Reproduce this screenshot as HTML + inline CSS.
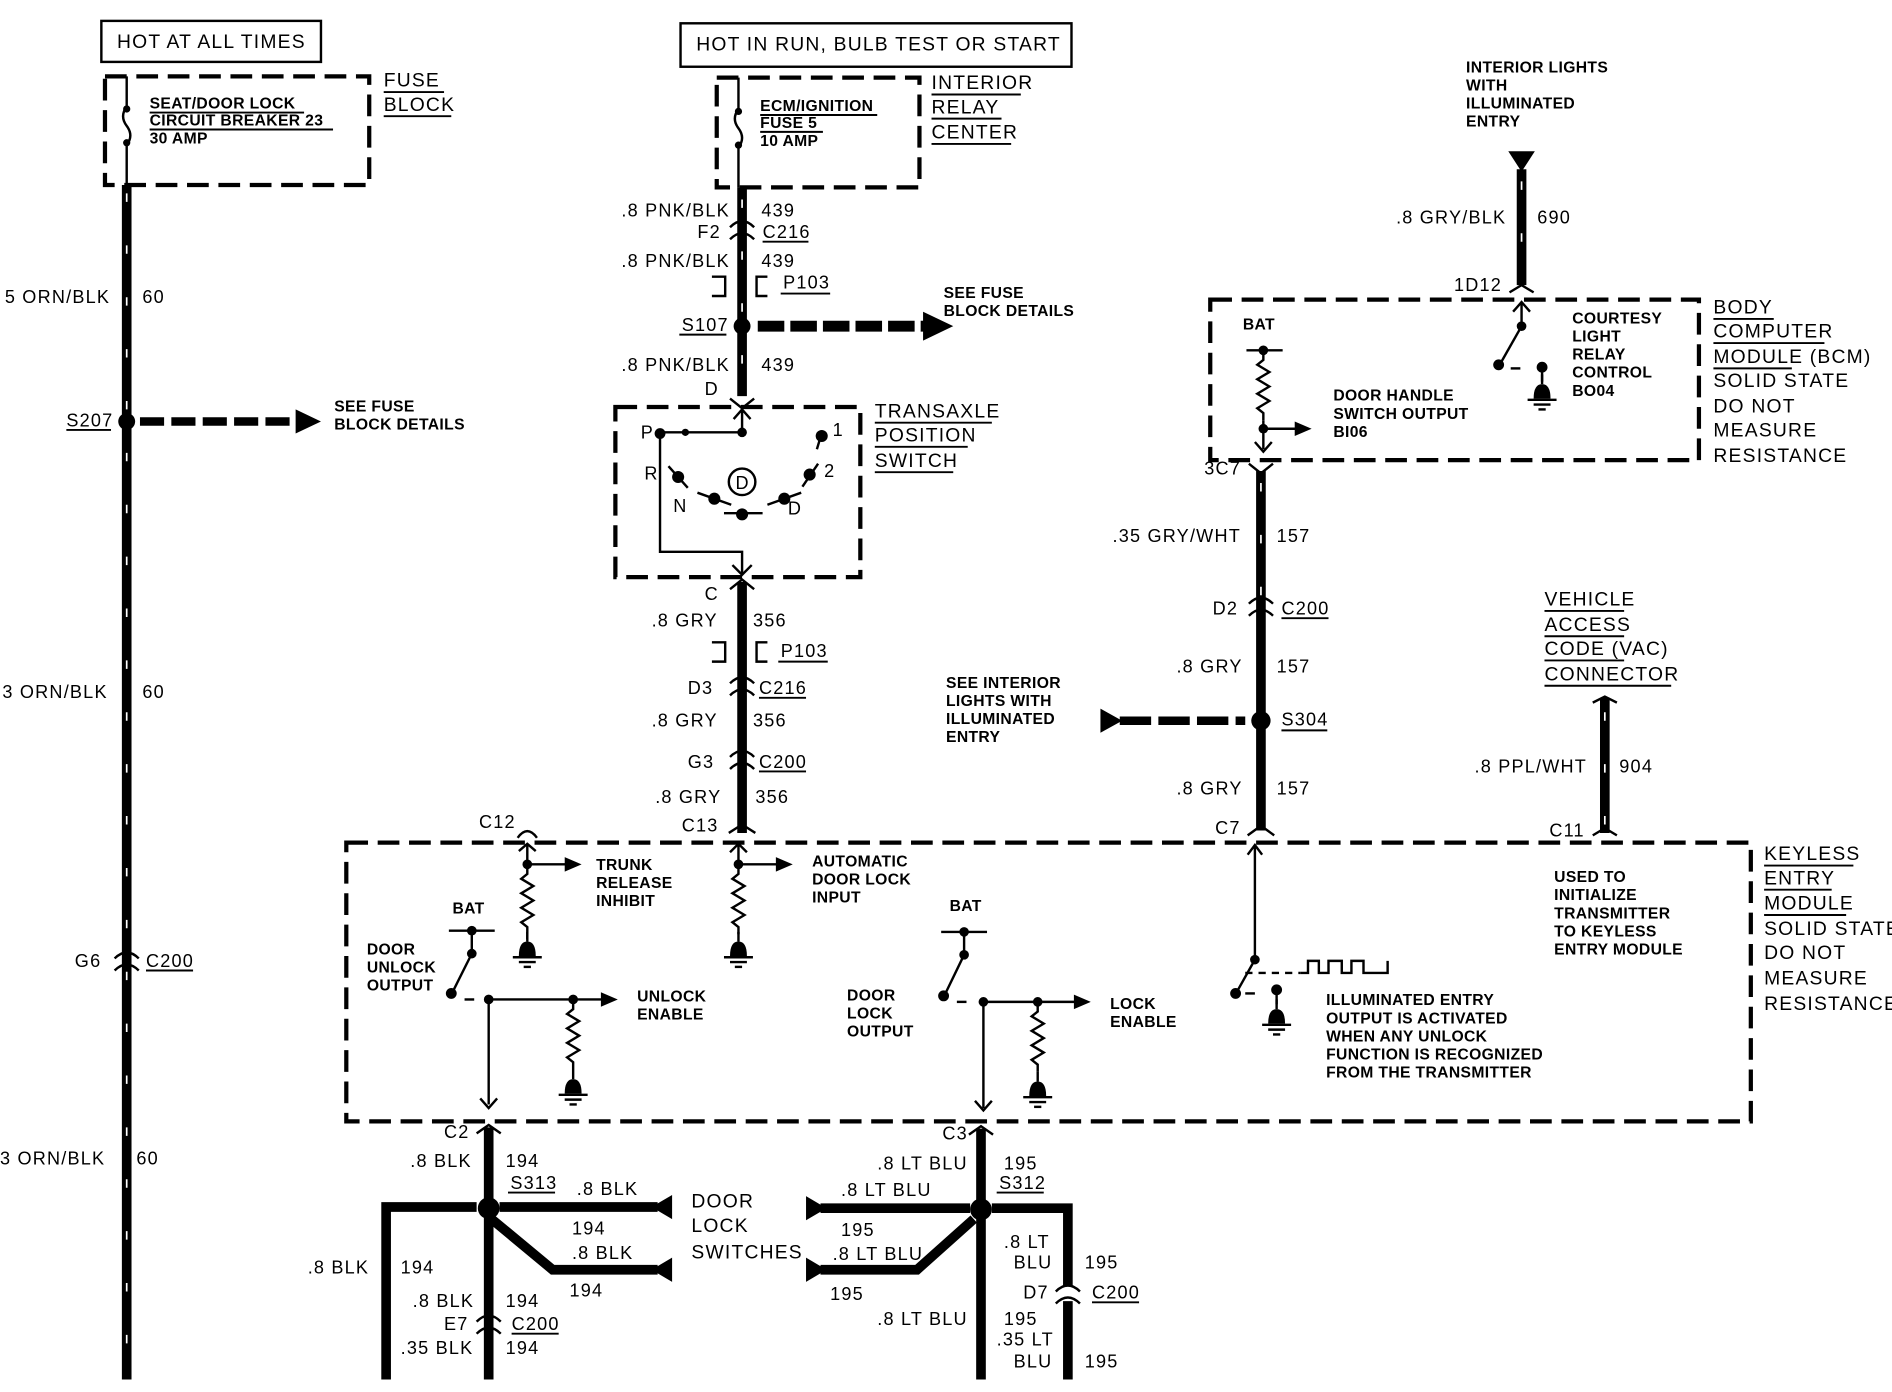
<!DOCTYPE html>
<html><head><meta charset="utf-8"><style>
html,body{margin:0;padding:0;background:#fff;}
svg{display:block;}
text{font-family:"Liberation Sans",sans-serif;fill:#000;dominant-baseline:central;}
.n{font-size:15px;letter-spacing:1px;}
.b{font-size:13px;font-weight:bold;letter-spacing:0.3px;}
.L{font-size:16px;letter-spacing:1px;}
.w{stroke:#000;stroke-width:8;fill:none;}
.h{stroke:#fff;stroke-width:1.4;stroke-dasharray:7 36;fill:none;}
.d{stroke:#000;stroke-width:3.5;stroke-dasharray:18 8;fill:none;}
.t{stroke:#000;stroke-width:2;fill:none;}
.u{stroke:#000;stroke-width:1.6;}
</style></head><body>
<svg width="1892" height="1392" viewBox="0 0 1568 1153" xmlns="http://www.w3.org/2000/svg">
<defs>
<g id="gnd"><path d="M-7,0 Q-7,-12 0,-12 Q7,-12 7,0 Z" fill="#000"/><line x1="0" y1="-12" x2="0" y2="-20" class="t"/><line x1="-12" y1="1" x2="12" y2="1" class="t"/><line x1="-7" y1="5" x2="7" y2="5" class="t"/><line x1="-3" y1="9" x2="3" y2="9" class="t"/></g>
<g id="res"><polyline points="0,0 0,6 -5,10 5,16 -5,22 5,28 -5,34 5,40 -5,46 0,50 0,56" class="t"/></g>
<g id="conn"><path d="M-10,-2 Q0,-12 10,-2" class="t" stroke-width="4"/><path d="M-10,8 Q0,-2 10,8" class="t" stroke-width="4"/></g>
</defs>

<!-- LEFT -->
<rect x="84" y="17" width="182" height="34" fill="none" stroke="#000" stroke-width="2"/>
<text x="97" y="35" class="L">HOT AT ALL TIMES</text>
<rect x="87" y="63" width="219" height="90" class="d"/>
<path d="M105,63 L105,88 Q99,96 105,104 Q111,112 105,120 L105,153" class="t"/>
<circle cx="105" cy="90" r="3"/><circle cx="105" cy="118" r="3"/>
<text x="124" y="86" class="b">SEAT/DOOR LOCK</text><line x1="124" y1="93" x2="252" y2="93" class="u"/>
<text x="124" y="100" class="b">CIRCUIT BREAKER  23</text><line x1="124" y1="107" x2="276" y2="107" class="u"/>
<text x="124" y="115" class="b">30  AMP</text>
<text x="318" y="67" class="L">FUSE</text><line x1="318" y1="76" x2="368" y2="76" class="u"/>
<text x="318" y="87" class="L">BLOCK</text><line x1="318" y1="96" x2="374" y2="96" class="u"/>
<line x1="105" y1="153" x2="105" y2="1143" class="w"/>
<line x1="105" y1="160" x2="105" y2="1143" class="h"/>
<text x="4" y="246" class="n">5 ORN/BLK</text><text x="118" y="246" class="n">60</text>
<text x="55" y="348" class="n">S207</text><line x1="55" y1="356" x2="92" y2="356" class="u"/>
<circle cx="105" cy="349" r="7"/>
<line x1="116" y1="349" x2="248" y2="349" stroke="#000" stroke-width="7" stroke-dasharray="20 6"/>
<polygon points="245,339 266,349 245,359"/>
<text x="277" y="337" class="b">SEE FUSE</text><text x="277" y="352" class="b">BLOCK DETAILS</text>
<text x="2" y="573" class="n">3 ORN/BLK</text><text x="118" y="573" class="n">60</text>
<text x="62" y="796" class="n">G6</text><use href="#conn" x="105" y="796"/>
<text x="121" y="796" class="n">C200</text><line x1="121" y1="804" x2="160" y2="804" class="u"/>
<text x="0" y="960" class="n">3 ORN/BLK</text><text x="113" y="960" class="n">60</text>

<!-- MIDDLE -->
<rect x="564" y="19" width="324" height="36" fill="none" stroke="#000" stroke-width="2"/>
<text x="577" y="37" class="L">HOT IN RUN, BULB TEST OR START</text>
<rect x="594" y="64" width="168" height="91" class="d"/>
<path d="M612,64 L612,90 Q606,98 612,106 Q618,114 612,122 L612,155" class="t"/>
<circle cx="612" cy="92" r="3"/><circle cx="612" cy="120" r="3"/>
<text x="630" y="88" class="b">ECM/IGNITION</text><line x1="630" y1="95" x2="727" y2="95" class="u"/>
<text x="630" y="102" class="b">FUSE  5</text><line x1="630" y1="109" x2="682" y2="109" class="u"/>
<text x="630" y="117" class="b">10  AMP</text>
<text x="772" y="69" class="L">INTERIOR</text><line x1="772" y1="78" x2="846" y2="78" class="u"/>
<text x="772" y="89" class="L">RELAY</text><line x1="772" y1="98" x2="830" y2="98" class="u"/>
<text x="772" y="110" class="L">CENTER</text><line x1="772" y1="119" x2="838" y2="119" class="u"/>
<line x1="615" y1="155" x2="615" y2="328" class="w"/>
<line x1="615" y1="165" x2="615" y2="330" class="h"/>
<text x="515" y="174" class="n">.8 PNK/BLK</text><text x="631" y="174" class="n">439</text>
<text x="578" y="192" class="n">F2</text><use href="#conn" x="615" y="190"/>
<text x="632" y="192" class="n">C216</text><line x1="632" y1="200" x2="670" y2="200" class="u"/>
<text x="515" y="216" class="n">.8 PNK/BLK</text><text x="631" y="216" class="n">439</text>
<path d="M590,229 L601,229 L601,245 L590,245" class="t" stroke-width="4"/>
<path d="M636,229 L627,229 L627,245 L636,245" class="t" stroke-width="4"/>
<text x="649" y="234" class="n">P103</text><line x1="647" y1="243" x2="688" y2="243" class="u"/>
<text x="565" y="269" class="n">S107</text><line x1="563" y1="277" x2="602" y2="277" class="u"/>
<circle cx="615" cy="270" r="7"/>
<line x1="628" y1="270" x2="768" y2="270" stroke="#000" stroke-width="9" stroke-dasharray="22 5"/>
<polygon points="765,258 790,270 765,282"/>
<text x="782" y="243" class="b">SEE FUSE</text><text x="782" y="258" class="b">BLOCK DETAILS</text>
<text x="515" y="302" class="n">.8 PNK/BLK</text><text x="631" y="302" class="n">439</text>
<text x="584" y="322" class="n">D</text>
<path d="M605,330 L615,338 L625,330" class="t" stroke-width="4"/>
<rect x="510" y="337" width="203" height="141" class="d"/>
<text x="725" y="341" class="L">TRANSAXLE</text><line x1="725" y1="350" x2="822" y2="350" class="u"/>
<text x="725" y="361" class="L">POSITION</text><line x1="725" y1="370" x2="802" y2="370" class="u"/>
<text x="725" y="382" class="L">SWITCH</text><line x1="725" y1="391" x2="790" y2="391" class="u"/>
<path d="M608,347 L615,339 L622,347 M615,339 L615,358" class="t"/>
<line x1="546" y1="358" x2="615" y2="358" class="t"/>
<circle cx="547" cy="359" r="4.5"/><circle cx="568" cy="358" r="3"/><circle cx="615" cy="358" r="4"/>
<polyline points="547,359 547,457 615,457 615,476" class="t"/>
<path d="M607,468 L615,476 L623,468" class="t"/>
<text x="531" y="358" class="n">P</text><text x="534" y="392" class="n">R</text>
<text x="558" y="419" class="n">N</text><text x="653" y="421" class="n">D</text>
<text x="690" y="356" class="n">1</text><text x="683" y="390" class="n">2</text>
<circle cx="615" cy="399" r="11" fill="none" stroke="#000" stroke-width="2"/>
<text x="615" y="400" class="n" text-anchor="middle" style="letter-spacing:0">D</text>
<line x1="554" y1="386" x2="570" y2="404" class="t" stroke-width="3"/><circle cx="562" cy="395" r="5"/>
<line x1="578" y1="408" x2="606" y2="418" class="t" stroke-width="3"/><circle cx="592" cy="413" r="5"/>
<line x1="600" y1="425" x2="632" y2="425" class="t" stroke-width="3"/><circle cx="615" cy="426" r="5"/>
<line x1="636" y1="418" x2="664" y2="408" class="t" stroke-width="3"/><circle cx="650" cy="413" r="5"/>
<line x1="665" y1="403" x2="678" y2="384" class="t" stroke-width="3"/><circle cx="671" cy="393" r="5"/>
<line x1="677" y1="372" x2="680" y2="362" class="t" stroke-width="3"/><circle cx="681" cy="361" r="5"/>
<path d="M605,488 L615,480 L625,488" class="t" stroke-width="4"/>
<line x1="615" y1="482" x2="615" y2="690" class="w"/>
<text x="584" y="492" class="n">C</text>
<text x="540" y="514" class="n">.8 GRY</text><text x="624" y="514" class="n">356</text>
<path d="M590,532 L601,532 L601,548 L590,548" class="t" stroke-width="4"/>
<path d="M636,532 L627,532 L627,548 L636,548" class="t" stroke-width="4"/>
<text x="647" y="539" class="n">P103</text><line x1="645" y1="548" x2="686" y2="548" class="u"/>
<text x="570" y="570" class="n">D3</text><use href="#conn" x="615" y="568"/>
<text x="629" y="570" class="n">C216</text><line x1="629" y1="578" x2="668" y2="578" class="u"/>
<text x="540" y="597" class="n">.8 GRY</text><text x="624" y="597" class="n">356</text>
<text x="570" y="631" class="n">G3</text><use href="#conn" x="615" y="629"/>
<text x="629" y="631" class="n">C200</text><line x1="629" y1="639" x2="668" y2="639" class="u"/>
<text x="543" y="660" class="n">.8 GRY</text><text x="626" y="660" class="n">356</text>
<text x="565" y="684" class="n">C13</text>
<path d="M604,690 L615,683 L626,690" class="t" stroke-width="4"/>

<!-- RIGHT TOP -->
<text x="1215" y="56" class="b">INTERIOR LIGHTS</text><text x="1215" y="71" class="b">WITH</text>
<text x="1215" y="86" class="b">ILLUMINATED</text><text x="1215" y="101" class="b">ENTRY</text>
<polygon points="1250,125 1272,125 1261,142"/>
<line x1="1261" y1="140" x2="1261" y2="236" class="w"/>
<line x1="1261" y1="150" x2="1261" y2="236" class="h"/>
<text x="1157" y="180" class="n">.8 GRY/BLK</text><text x="1274" y="180" class="n">690</text>
<text x="1205" y="236" class="n">1D12</text>
<path d="M1251,242 L1261,236 L1271,242" class="t" stroke-width="4"/>
<rect x="1003" y="248" width="405" height="133" class="d"/>
<path d="M1254,258 L1261,250 L1268,258 M1261,250 L1261,270" class="t"/>
<circle cx="1261" cy="270" r="4"/>
<line x1="1261" y1="270" x2="1244" y2="300" class="t" stroke-width="3"/><circle cx="1242" cy="302" r="4.5"/>
<line x1="1252" y1="305" x2="1260" y2="305" class="t"/>
<circle cx="1278" cy="304" r="4.5"/><line x1="1278" y1="304" x2="1278" y2="316" class="t"/>
<use href="#gnd" x="1278" y="330"/>
<text x="1030" y="269" class="b">BAT</text>
<line x1="1033" y1="290" x2="1063" y2="290" class="t"/><circle cx="1047" cy="290" r="4"/>
<use href="#res" x="1047" y="292"/>
<line x1="1047" y1="348" x2="1047" y2="372" class="t"/><circle cx="1047" cy="355" r="4"/>
<line x1="1047" y1="355" x2="1075" y2="355" class="t"/><polygon points="1073,349 1087,355 1073,361"/>
<path d="M1040,366 L1047,374 L1054,366" class="t"/>
<text x="1303" y="264" class="b">COURTESY</text><text x="1303" y="279" class="b">LIGHT</text>
<text x="1303" y="294" class="b">RELAY</text><text x="1303" y="309" class="b">CONTROL</text>
<text x="1303" y="324" class="b">BO04</text>
<text x="1105" y="328" class="b">DOOR HANDLE</text><text x="1105" y="343" class="b">SWITCH OUTPUT</text>
<text x="1105" y="358" class="b">BI06</text>
<text x="1420" y="255" class="L">BODY</text><line x1="1420" y1="264" x2="1470" y2="264" class="u"/>
<text x="1420" y="275" class="L">COMPUTER</text><line x1="1420" y1="284" x2="1512" y2="284" class="u"/>
<text x="1420" y="296" class="L">MODULE  (BCM)</text><line x1="1420" y1="305" x2="1485" y2="305" class="u"/>
<text x="1420" y="316" class="L">SOLID STATE</text>
<text x="1420" y="337" class="L">DO NOT</text>
<text x="1420" y="357" class="L">MEASURE</text>
<text x="1420" y="378" class="L">RESISTANCE</text>
<text x="998" y="388" class="n">3C7</text>
<path d="M1035,384 L1045,392 L1055,384" class="t" stroke-width="4"/>
<line x1="1045" y1="390" x2="1045" y2="688" class="w"/>
<line x1="1045" y1="400" x2="1045" y2="500" class="h"/>
<text x="922" y="444" class="n">.35 GRY/WHT</text><text x="1058" y="444" class="n">157</text>
<text x="1005" y="504" class="n">D2</text><use href="#conn" x="1045" y="502"/>
<text x="1062" y="504" class="n">C200</text><line x1="1062" y1="512" x2="1101" y2="512" class="u"/>
<text x="975" y="552" class="n">.8 GRY</text><text x="1058" y="552" class="n">157</text>
<text x="784" y="566" class="b">SEE INTERIOR</text><text x="784" y="581" class="b">LIGHTS WITH</text>
<text x="784" y="596" class="b">ILLUMINATED</text><text x="784" y="611" class="b">ENTRY</text>
<polygon points="912,587 930,597 912,607"/>
<line x1="928" y1="597" x2="1032" y2="597" stroke="#000" stroke-width="7" stroke-dasharray="26 6"/>
<circle cx="1045" cy="597" r="8"/>
<text x="1062" y="596" class="n">S304</text><line x1="1062" y1="605" x2="1100" y2="605" class="u"/>
<text x="975" y="653" class="n">.8 GRY</text><text x="1058" y="653" class="n">157</text>
<text x="1007" y="686" class="n">C7</text>
<path d="M1034,692 L1045,684 L1056,692" class="t" stroke-width="4"/>
<text x="1280" y="497" class="L">VEHICLE</text><line x1="1280" y1="506" x2="1346" y2="506" class="u"/>
<text x="1280" y="518" class="L">ACCESS</text><line x1="1280" y1="527" x2="1346" y2="527" class="u"/>
<text x="1280" y="538" class="L">CODE  (VAC)</text><line x1="1280" y1="547" x2="1346" y2="547" class="u"/>
<text x="1280" y="559" class="L">CONNECTOR</text><line x1="1280" y1="568" x2="1385" y2="568" class="u"/>
<path d="M1320,582 L1330,577 L1340,582" class="t" stroke-width="4"/>
<line x1="1330" y1="578" x2="1330" y2="690" class="w"/>
<line x1="1330" y1="590" x2="1330" y2="690" class="h"/>
<path d="M1320,692 L1330,686 L1340,692" class="t" stroke-width="4"/>
<text x="1222" y="635" class="n">.8 PPL/WHT</text><text x="1342" y="635" class="n">904</text>
<text x="1284" y="688" class="n">C11</text>

<!-- KEYLESS MODULE -->
<rect x="287" y="698" width="1164" height="231" class="d"/>
<text x="1462" y="708" class="L">KEYLESS</text><line x1="1462" y1="717" x2="1536" y2="717" class="u"/>
<text x="1462" y="728" class="L">ENTRY</text><line x1="1462" y1="737" x2="1518" y2="737" class="u"/>
<text x="1462" y="749" class="L">MODULE</text><line x1="1462" y1="758" x2="1530" y2="758" class="u"/>
<text x="1462" y="770" class="L">SOLID STATE</text>
<text x="1462" y="790" class="L">DO NOT</text>
<text x="1462" y="811" class="L">MEASURE</text>
<text x="1462" y="832" class="L">RESISTANCE</text>
<text x="397" y="681" class="n">C12</text>
<path d="M429,694 Q437,683 445,694" class="t" stroke-width="4"/>
<path d="M430,705 L437,699 L444,705 M437,699 L437,716" class="t"/>
<circle cx="437" cy="716" r="4"/><line x1="437" y1="716" x2="470" y2="716" class="t"/>
<polygon points="468,710 482,716 468,722"/>
<use href="#res" x="437" y="718"/>
<line x1="437" y1="774" x2="437" y2="778" class="t"/>
<use href="#gnd" x="437" y="792"/>
<text x="494" y="717" class="b">TRUNK</text><text x="494" y="732" class="b">RELEASE</text><text x="494" y="747" class="b">INHIBIT</text>
<path d="M605,706 L612,699 L619,706 M612,699 L612,716" class="t"/>
<circle cx="612" cy="716" r="4"/><line x1="612" y1="716" x2="645" y2="716" class="t"/>
<polygon points="643,710 657,716 643,722"/>
<use href="#res" x="612" y="718"/>
<use href="#gnd" x="612" y="792"/>
<text x="673" y="714" class="b">AUTOMATIC</text><text x="673" y="729" class="b">DOOR LOCK</text><text x="673" y="744" class="b">INPUT</text>
<!-- unlock -->
<text x="375" y="753" class="b">BAT</text>
<line x1="372" y1="771" x2="410" y2="771" class="t"/><circle cx="391" cy="771" r="4"/>
<line x1="391" y1="771" x2="391" y2="790" class="t"/><circle cx="391" cy="790" r="4"/>
<line x1="391" y1="790" x2="376" y2="820" class="t" stroke-width="3"/><circle cx="374" cy="823" r="4.5"/>
<line x1="385" y1="828" x2="393" y2="828" class="t"/>
<circle cx="405" cy="828" r="4"/><line x1="405" y1="828" x2="500" y2="828" class="t"/>
<polygon points="498,822 512,828 498,834"/>
<circle cx="475" cy="828" r="4"/><use href="#res" x="475" y="830"/>
<use href="#gnd" x="475" y="906"/>
<line x1="405" y1="828" x2="405" y2="915" class="t"/><path d="M398,910 L405,918 L412,910" class="t"/>
<text x="304" y="787" class="b">DOOR</text><text x="304" y="802" class="b">UNLOCK</text><text x="304" y="817" class="b">OUTPUT</text>
<text x="528" y="826" class="b">UNLOCK</text><text x="528" y="841" class="b">ENABLE</text>
<!-- lock -->
<text x="787" y="751" class="b">BAT</text>
<line x1="780" y1="772" x2="818" y2="772" class="t"/><circle cx="799" cy="772" r="4"/>
<line x1="799" y1="772" x2="799" y2="791" class="t"/><circle cx="799" cy="791" r="4"/>
<line x1="799" y1="791" x2="784" y2="822" class="t" stroke-width="3"/><circle cx="782" cy="825" r="4.5"/>
<line x1="793" y1="830" x2="801" y2="830" class="t"/>
<circle cx="815" cy="830" r="4"/><line x1="815" y1="830" x2="892" y2="830" class="t"/>
<polygon points="890,824 904,830 890,836"/>
<circle cx="860" cy="830" r="4"/><use href="#res" x="860" y="832"/>
<use href="#gnd" x="860" y="908"/>
<line x1="815" y1="830" x2="815" y2="918" class="t" stroke-width="2.5"/><path d="M808,912 L815,920 L822,912" class="t"/>
<text x="702" y="825" class="b">DOOR</text><text x="702" y="840" class="b">LOCK</text><text x="702" y="855" class="b">OUTPUT</text>
<text x="920" y="832" class="b">LOCK</text><text x="920" y="847" class="b">ENABLE</text>
<!-- illuminated -->
<path d="M1034,708 L1040,700 L1046,708 M1040,700 L1040,795" class="t"/>
<circle cx="1040" cy="795" r="4"/>
<line x1="1040" y1="795" x2="1026" y2="820" class="t" stroke-width="3"/><circle cx="1024" cy="823" r="4.5"/>
<line x1="1032" y1="823" x2="1040" y2="823" class="t"/>
<circle cx="1058" cy="820" r="4.5"/><line x1="1058" y1="820" x2="1058" y2="832" class="t"/>
<use href="#gnd" x="1058" y="848"/>
<line x1="1032" y1="806" x2="1078" y2="806" class="t" stroke-dasharray="6 5"/>
<polyline points="1078,806 1084,806 1084,796 1093,796 1093,806 1101,806 1101,796 1112,796 1112,806 1120,806 1120,796 1130,796 1130,806 1150,806 1150,796" class="t"/>
<text x="1099" y="829" class="b">ILLUMINATED ENTRY</text><text x="1099" y="844" class="b">OUTPUT IS ACTIVATED</text>
<text x="1099" y="859" class="b">WHEN ANY UNLOCK</text><text x="1099" y="874" class="b">FUNCTION IS RECOGNIZED</text>
<text x="1099" y="889" class="b">FROM THE TRANSMITTER</text>
<text x="1288" y="727" class="b">USED TO</text><text x="1288" y="742" class="b">INITIALIZE</text>
<text x="1288" y="757" class="b">TRANSMITTER</text><text x="1288" y="772" class="b">TO KEYLESS</text>
<text x="1288" y="787" class="b">ENTRY MODULE</text>

<!-- BOTTOM LEFT -->
<path d="M395,939 L405,932 L415,939" class="t" stroke-width="4"/>
<line x1="405" y1="934" x2="405" y2="1143" class="w"/>
<text x="368" y="938" class="n">C2</text>
<text x="340" y="962" class="n">.8 BLK</text><text x="419" y="962" class="n">194</text>
<text x="423" y="980" class="n">S313</text><line x1="421" y1="988" x2="460" y2="988" class="u"/>
<circle cx="405" cy="1001" r="9"/>
<polyline points="395,1000 320,1000 320,1143" class="w"/>
<line x1="414" y1="1000" x2="545" y2="1000" class="w"/>
<polygon points="540,1000 557,990 557,1010"/>
<polyline points="405,1008 458,1052 545,1052" class="w"/>
<polygon points="540,1052 557,1042 557,1062"/>
<text x="478" y="985" class="n">.8 BLK</text><text x="474" y="1018" class="n">194</text>
<text x="474" y="1038" class="n">.8 BLK</text><text x="472" y="1069" class="n">194</text>
<text x="573" y="996" class="L">DOOR</text><text x="573" y="1016" class="L">LOCK</text><text x="573" y="1038" class="L">SWITCHES</text>
<text x="255" y="1050" class="n">.8 BLK</text><text x="332" y="1050" class="n">194</text>
<text x="342" y="1078" class="n">.8 BLK</text><text x="419" y="1078" class="n">194</text>
<text x="368" y="1097" class="n">E7</text><use href="#conn" x="405" y="1097"/>
<text x="424" y="1097" class="n">C200</text><line x1="424" y1="1105" x2="463" y2="1105" class="u"/>
<text x="332" y="1117" class="n">.35 BLK</text><text x="419" y="1117" class="n">194</text>

<!-- BOTTOM RIGHT -->
<path d="M803,940 L813,933 L823,940" class="t" stroke-width="4"/>
<line x1="813" y1="935" x2="813" y2="1143" class="w"/>
<text x="781" y="939" class="n">C3</text>
<text x="727" y="964" class="n">.8 LT BLU</text><text x="832" y="964" class="n">195</text>
<text x="828" y="980" class="n">S312</text><line x1="826" y1="988" x2="865" y2="988" class="u"/>
<circle cx="813" cy="1002" r="9"/>
<polyline points="822,1001 885,1001 885,1066" class="w"/>
<line x1="885" y1="1078" x2="885" y2="1143" class="w"/>
<use href="#conn" x="885" y="1072"/>
<line x1="804" y1="1001" x2="680" y2="1001" class="w"/>
<polygon points="685,1001 668,991 668,1011"/>
<polyline points="807,1010 760,1052 680,1052" class="w"/>
<polygon points="685,1052 668,1042 668,1062"/>
<text x="697" y="986" class="n">.8 LT BLU</text><text x="697" y="1019" class="n">195</text>
<text x="690" y="1039" class="n">.8 LT BLU</text><text x="688" y="1072" class="n">195</text>
<text x="832" y="1029" class="n">.8 LT</text><text x="840" y="1046" class="n">BLU</text><text x="899" y="1046" class="n">195</text>
<text x="848" y="1071" class="n">D7</text>
<text x="905" y="1071" class="n">C200</text><line x1="905" y1="1079" x2="944" y2="1079" class="u"/>
<text x="727" y="1093" class="n">.8 LT BLU</text><text x="832" y="1093" class="n">195</text>
<text x="826" y="1110" class="n">.35 LT</text><text x="840" y="1128" class="n">BLU</text><text x="899" y="1128" class="n">195</text>
</svg>
</body></html>
